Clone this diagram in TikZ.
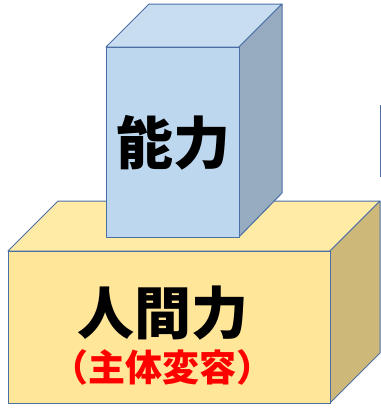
\documentclass[tikz,border=0pt]{standalone}
\usepackage{fontspec}
\newfontfamily\jpfont{Noto Sans CJK JP}
\usetikzlibrary{positioning}

\definecolor{edgeblue}{HTML}{4A6FA5}
\definecolor{btop}{HTML}{C9DDF1}
\definecolor{bfront}{HTML}{BDD7EE}
\definecolor{bside}{HTML}{97ACC1}
\definecolor{ytop}{HTML}{FFEAA6}
\definecolor{yfront}{HTML}{FFE699}
\definecolor{yside}{HTML}{CDB879}

\begin{document}
\begin{tikzpicture}[x=1pt,y=-1pt,
		face/.style={draw=edgeblue,line width=1pt,line join=round},
		bigtext/.style={font=\jpfont\bfseries\fontsize{57}{57}\selectfont,inner sep=0pt},
		subtext/.style={font=\jpfont\bfseries\fontsize{37}{37}\selectfont,text=red,inner sep=0pt}]
			\useasboundingbox (0,0) rectangle (381,408);
			
			% Unterer Block
			\draw[face,fill=ytop] (8,251) -- (58,201) -- (380,201) -- (330,251) -- cycle;
			\draw[face,fill=yside] (330,251) -- (380,201) -- (380,353) -- (330,403) -- cycle;
			\draw[face,fill=yfront] (8,251) rectangle (330,403);
			
			% Oberer Block
			\draw[face,fill=btop] (106,47) -- (149,4) -- (282,4) -- (239,47) -- cycle;
			\draw[face,fill=bside] (239,47) -- (282,4) -- (282,193) -- (239,237) -- cycle;
			\draw[face,fill=bfront] (106,47) rectangle (239,237);
			
			% Rand rechts
			\draw[edgeblue,line width=1pt] (380.5,105) -- (380.5,177);
			
			% Beschriftungen
			\node[bigtext] (noryoku) at (174,143) {能力};
			\node[bigtext] (ningen) at (163,313) {人間力};
			\node[subtext] (shutai) at (163,367) {（主体変容）};
		\end{tikzpicture}
\end{document}
